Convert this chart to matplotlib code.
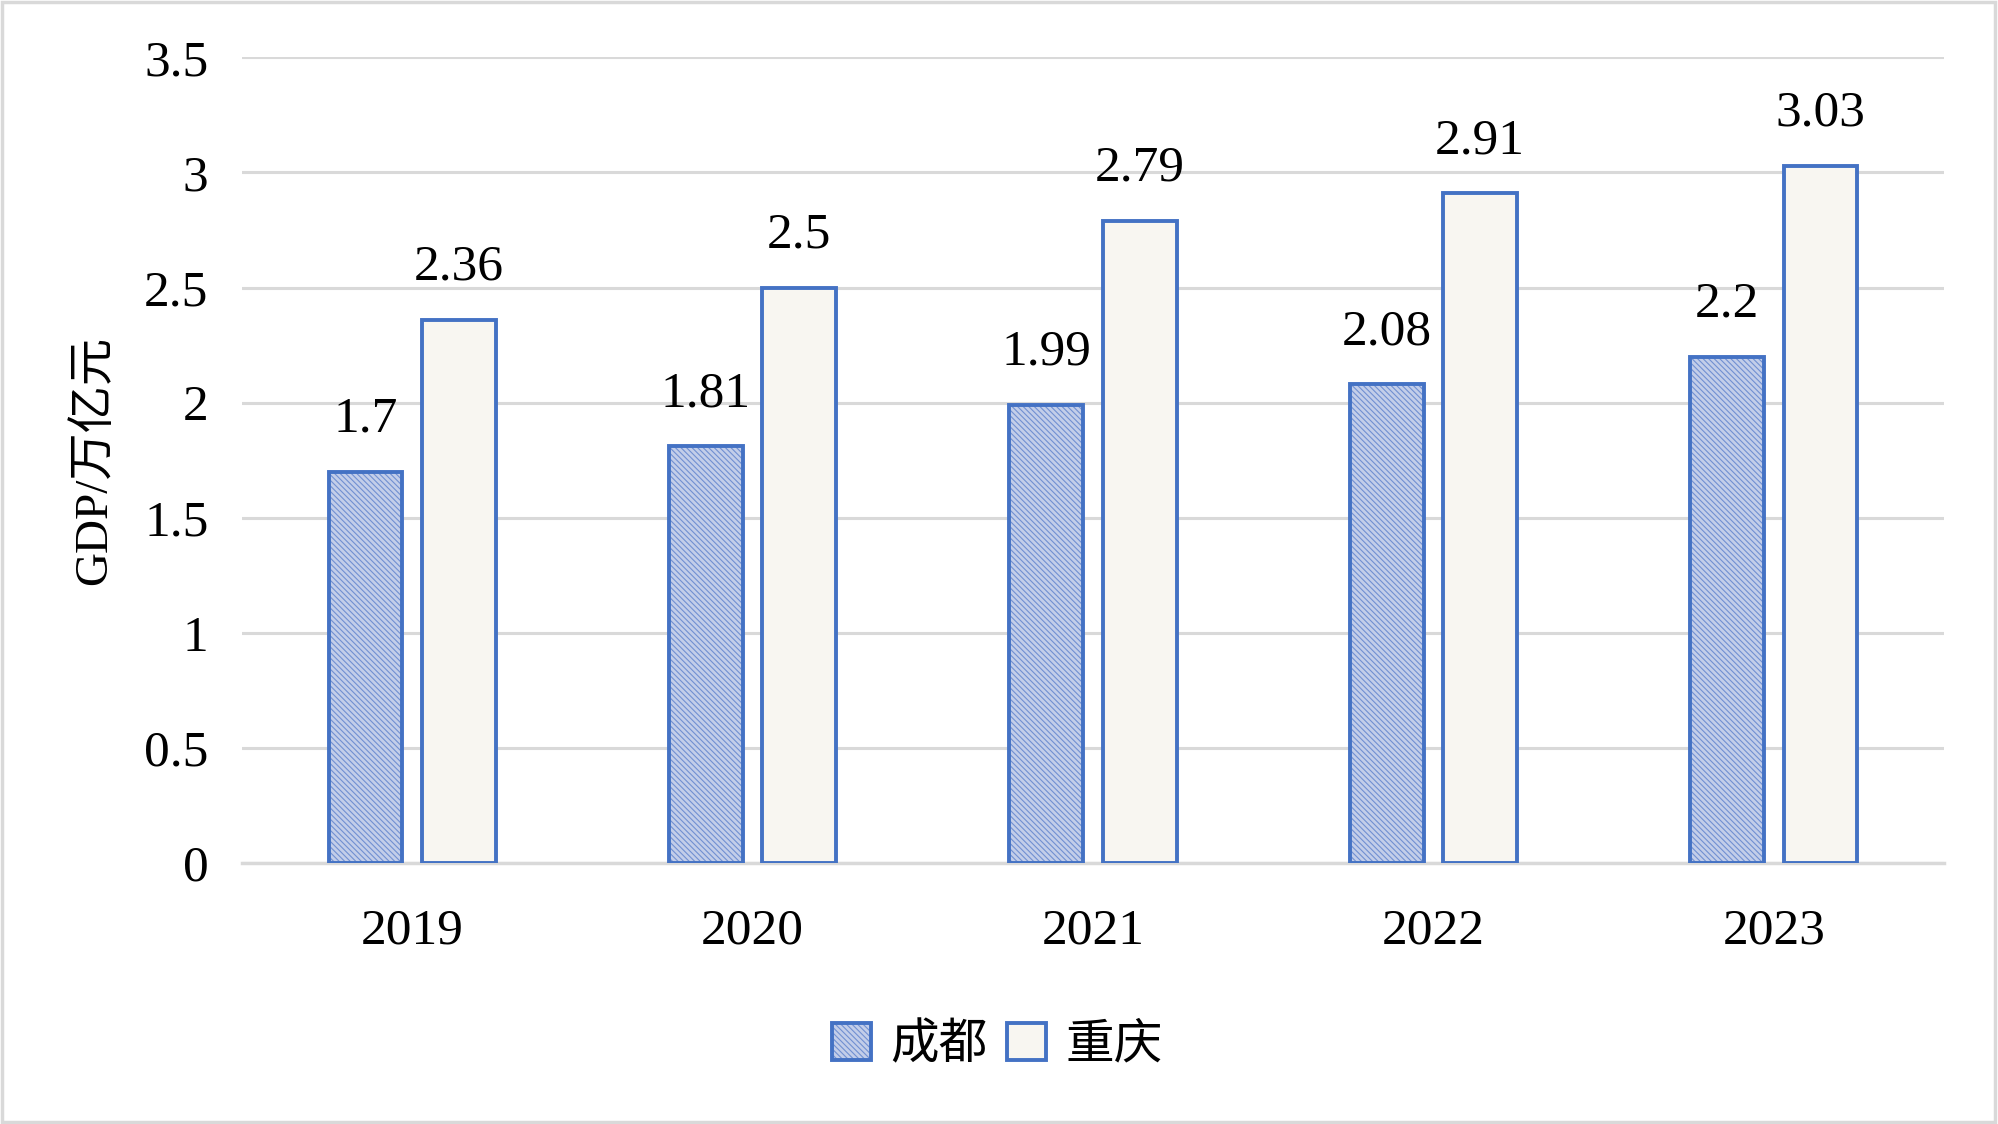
import matplotlib.pyplot as plt
from matplotlib.patches import Patch, Rectangle
import numpy as np

plt.rcParams['font.family'] = ['Liberation Serif', 'Noto Sans CJK SC']
plt.rcParams['hatch.linewidth'] = 0.8

godine = ['2019', '2020', '2021', '2022', '2023']
chengdu = [1.7, 1.81, 1.99, 2.08, 2.2]
chongqing = [2.36, 2.5, 2.79, 2.91, 3.03]

plava = '#4472c4'
srafura = '\\' * 6
fig = plt.figure(figsize=(19.99, 11.24), dpi=100)
ax = fig.add_axes([0.121, 0.232, 0.8515, 0.717])

x = np.arange(len(godine))
w = 0.217
pom = 0.137

# hatch ispuna pa obrub preko nje
ax.bar(x - pom, chengdu, w, color='#c3cee9', hatch=srafura, edgecolor='#7190d2', linewidth=0, zorder=3)
ax.bar(x - pom, chengdu, w, fill=False, edgecolor=plava, linewidth=2.8, zorder=4)
ax.bar(x + pom, chongqing, w, color='#f8f6f1', edgecolor=plava, linewidth=2.8, zorder=4)

for xi, v in zip(x - pom, chengdu):
    ax.annotate(f'{v:g}', (xi, v), xytext=(0, 21), textcoords='offset points',
                ha='center', va='bottom', fontsize=37)
for xi, v in zip(x + pom, chongqing):
    ax.annotate(f'{v:g}', (xi, v), xytext=(0, 21), textcoords='offset points',
                ha='center', va='bottom', fontsize=37)

ax.set_xlim(-0.5, 4.5)
ax.set_ylim(0, 3.5)
ax.set_yticks(np.arange(0, 3.51, 0.5))
ax.set_yticklabels(['0', '0.5', '1', '1.5', '2', '2.5', '3', '3.5'])
ax.set_xticks(x)
ax.set_xticklabels(godine)
ax.tick_params(axis='y', length=0, pad=24, labelsize=37)
ax.tick_params(axis='x', length=0, pad=32, labelsize=37)
ax.yaxis.grid(True, color='#d9d9d9', linewidth=2.2, zorder=0)
ax.set_axisbelow(True)
for s in ['top', 'right', 'left']:
    ax.spines[s].set_visible(False)
ax.spines['bottom'].set_color('#d9d9d9')
ax.spines['bottom'].set_linewidth(2.5)
ax.set_ylabel('GDP/万亿元', fontsize=34, labelpad=20)

h1 = (Patch(facecolor='#c3cee9', hatch=srafura, edgecolor='#7190d2', linewidth=0),
      Patch(fill=False, edgecolor=plava, linewidth=2.8))
h2 = Patch(facecolor='#f8f6f1', edgecolor=plava, linewidth=2.8)
fig.legend([h1, h2], ['成都', '重庆'], loc='center', bbox_to_anchor=(0.499, 0.07), ncol=2,
           frameon=False, fontsize=35, handlelength=0.8, handleheight=0.8,
           handletextpad=0.4, columnspacing=0.4)

fig.patches.append(Rectangle((0.001, 0.002), 0.997, 0.996, transform=fig.transFigure,
                             fill=False, edgecolor='#d9d9d9', linewidth=2.5))

plt.savefig('out.png', dpi=100)
